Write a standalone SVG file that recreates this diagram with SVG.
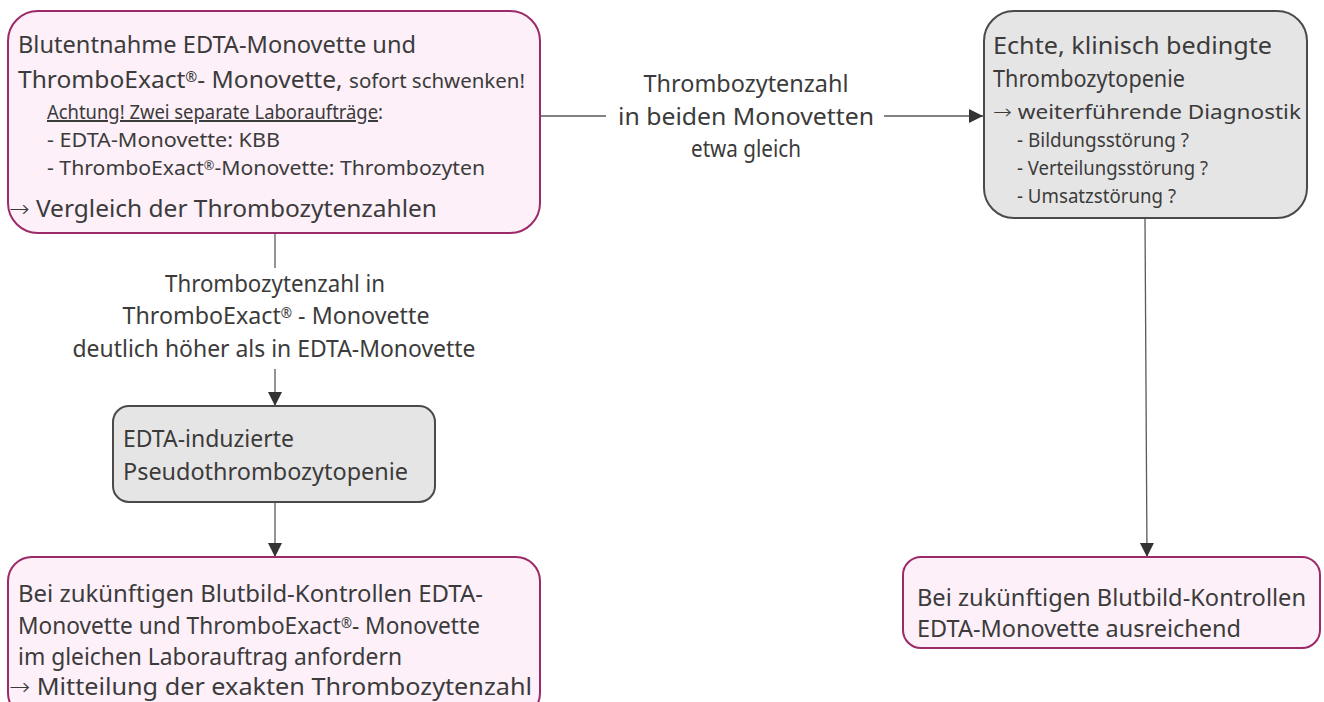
<svg xmlns="http://www.w3.org/2000/svg" width="1324" height="702" viewBox="0 0 1324 702">
<defs>
<style>
.pink{fill:#fdf0f9;stroke:#9c2a68;stroke-width:2}
.grey{fill:#e6e5e5;stroke:#4a4a4a;stroke-width:2}
text{font-family:"Noto Sans","Liberation Sans",sans-serif;fill:#3b3b3b}
.l{font-size:24px}
.s{font-size:20px}
.c{text-anchor:middle}
.ar{font-family:"DejaVu Sans",sans-serif;font-weight:300}
.conn{stroke:#5a5a5a;stroke-width:1.3;fill:none}
</style>
<marker id="ah" markerUnits="userSpaceOnUse" markerWidth="16" markerHeight="16" refX="14" refY="7" orient="auto">
<path d="M0,0 L14,7 L0,14 Z" fill="#333"/>
</marker>
</defs>
<rect width="1324" height="702" fill="#fff"/>
<g id="connectors">
<line class="conn" x1="540" y1="116" x2="606" y2="116"/>
<line class="conn" x1="884" y1="116" x2="983" y2="116" marker-end="url(#ah)"/>
<line class="conn" x1="275" y1="233" x2="275" y2="268"/>
<line class="conn" x1="275" y1="369" x2="275" y2="406" marker-end="url(#ah)"/>
<line class="conn" x1="275" y1="502" x2="275" y2="557" marker-end="url(#ah)"/>
<line class="conn" x1="1145" y1="218" x2="1147" y2="557" marker-end="url(#ah)"/>
<text class="l c" x="746" y="92" textLength="205" lengthAdjust="spacingAndGlyphs">Thrombozytenzahl</text>
<text class="l c" x="746" y="125" textLength="256" lengthAdjust="spacingAndGlyphs">in beiden Monovetten</text>
<text class="l c" x="746" y="157" textLength="110" lengthAdjust="spacingAndGlyphs">etwa gleich</text>
<text class="l c" x="275" y="292" textLength="220" lengthAdjust="spacingAndGlyphs">Thrombozytenzahl in</text>
<text class="l c" x="276" y="324" textLength="307" lengthAdjust="spacingAndGlyphs">ThromboExact<tspan font-size="14" baseline-shift="40%">®</tspan> - Monovette</text>
<text class="l c" x="274" y="357" textLength="403" lengthAdjust="spacingAndGlyphs">deutlich höher als in EDTA-Monovette</text>
</g>
<g id="n1">
<rect class="pink" x="8" y="11" width="532" height="222" rx="30"/>
<text class="l" x="18" y="53" textLength="398" lengthAdjust="spacingAndGlyphs">Blutentnahme EDTA-Monovette und</text>
<text class="l" x="18" y="88" textLength="507" lengthAdjust="spacingAndGlyphs">ThromboExact<tspan font-size="14" baseline-shift="40%">®</tspan>- Monovette, <tspan class="s">sofort schwenken!</tspan></text>
<text class="s" x="47" y="119" textLength="336" lengthAdjust="spacingAndGlyphs"><tspan text-decoration="underline">Achtung! Zwei separate Laboraufträge</tspan>:</text>
<text class="s" x="47" y="147" textLength="233" lengthAdjust="spacingAndGlyphs">- EDTA-Monovette:  KBB</text>
<text class="s" x="47" y="175" textLength="438" lengthAdjust="spacingAndGlyphs">- ThromboExact<tspan font-size="12" baseline-shift="40%">®</tspan>-Monovette:  Thrombozyten</text>
<text class="l" x="9" y="217" textLength="428" lengthAdjust="spacingAndGlyphs"><tspan class="ar">→</tspan> Vergleich der Thrombozytenzahlen</text>
</g>
<g id="n2">
<rect class="grey" x="984" y="11" width="323" height="207" rx="30"/>
<text class="l" x="993" y="54" textLength="279" lengthAdjust="spacingAndGlyphs">Echte, klinisch bedingte</text>
<text class="l" x="993" y="87" textLength="192" lengthAdjust="spacingAndGlyphs">Thrombozytopenie</text>
<text class="s" x="993" y="119" textLength="308" lengthAdjust="spacingAndGlyphs"><tspan class="ar">→</tspan> weiterführende Diagnostik</text>
<text class="s" x="1017" y="147" textLength="172" lengthAdjust="spacingAndGlyphs">- Bildungsstörung ?</text>
<text class="s" x="1017" y="175" textLength="191" lengthAdjust="spacingAndGlyphs">- Verteilungsstörung ?</text>
<text class="s" x="1017" y="203" textLength="159" lengthAdjust="spacingAndGlyphs">- Umsatzstörung ?</text>
</g>
<g id="n3">
<rect class="grey" x="113" y="406" width="322" height="96" rx="16"/>
<text class="l" x="123" y="447" textLength="171" lengthAdjust="spacingAndGlyphs">EDTA-induzierte</text>
<text class="l" x="123" y="480" textLength="285" lengthAdjust="spacingAndGlyphs">Pseudothrombozytopenie</text>
</g>
<g id="n4">
<rect class="pink" x="903" y="557" width="417" height="91" rx="18"/>
<text class="l" x="917" y="606" textLength="389" lengthAdjust="spacingAndGlyphs">Bei zukünftigen Blutbild-Kontrollen</text>
<text class="l" x="917" y="637" textLength="324" lengthAdjust="spacingAndGlyphs">EDTA-Monovette ausreichend</text>
</g>
<g id="n5">
<rect class="pink" x="8" y="557" width="532" height="160" rx="24"/>
<text class="l" x="18" y="602" textLength="465" lengthAdjust="spacingAndGlyphs">Bei zukünftigen Blutbild-Kontrollen EDTA-</text>
<text class="l" x="18" y="634" textLength="462" lengthAdjust="spacingAndGlyphs">Monovette und ThromboExact<tspan font-size="14" baseline-shift="40%">®</tspan>- Monovette</text>
<text class="l" x="18" y="665" textLength="384" lengthAdjust="spacingAndGlyphs">im gleichen Laborauftrag anfordern</text>
<text class="l" x="9" y="695" textLength="523" lengthAdjust="spacingAndGlyphs"><tspan class="ar">→</tspan> Mitteilung der exakten Thrombozytenzahl</text>
</g>
</svg>
